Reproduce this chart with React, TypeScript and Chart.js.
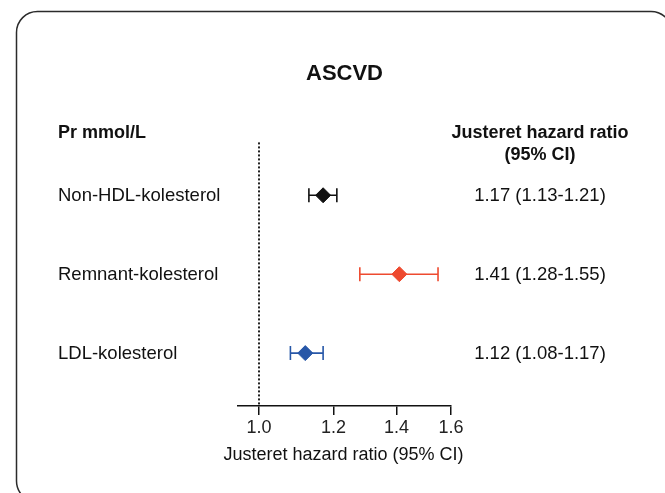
import React, { useEffect, useRef } from "react";
import { Chart, registerables } from "chart.js";

Chart.register(...registerables);

// Forest plot data: adjusted hazard ratios per mmol/L with 95% CI
const measures = ["Non-HDL-kolesterol", "Remnant-kolesterol", "LDL-kolesterol"];
const hazardRatios = [1.17, 1.41, 1.12];
const lowerCI = [1.13, 1.28, 1.08];
const upperCI = [1.21, 1.55, 1.17];
const markerColors = ["#111111", "#ee4a2f", "#2757a8"];
const xTicks = [1.0, 1.2, 1.4, 1.6];
const xAxisTitle = "Justeret hazard ratio (95% CI)";

const FONT = "'Liberation Sans', Arial, Helvetica, sans-serif";
const W = 665;
const H = 493;

const fmt = (v: number) => v.toFixed(2);

const forestPlugin = {
  id: "forestPlot",
  beforeDraw(chart: any) {
    const ctx = chart.ctx;
    ctx.save();
    ctx.fillStyle = "#ffffff";
    ctx.fillRect(0, 0, chart.width, chart.height);
    // rounded panel frame
    ctx.beginPath();
    ctx.roundRect(16.5, 11.5, 672 - 16.5, 502 - 11.5, 21);
    ctx.strokeStyle = "#2b2b2b";
    ctx.lineWidth = 1.5;
    ctx.stroke();
    ctx.restore();
  },
  beforeDatasetsDraw(chart: any) {
    const ctx = chart.ctx;
    const xs = chart.scales.x;
    const ys = chart.scales.y;
    const area = chart.chartArea;
    ctx.save();
    // reference line at HR = 1
    const x1 = Math.round(xs.getPixelForValue(1.0));
    ctx.beginPath();
    ctx.setLineDash([2, 2]);
    ctx.moveTo(x1, area.top);
    ctx.lineTo(x1, area.bottom);
    ctx.strokeStyle = "#222222";
    ctx.lineWidth = 2;
    ctx.stroke();
    ctx.setLineDash([]);
    // confidence intervals
    const cap = 7;
    measures.forEach((_, i) => {
      const y = ys.getPixelForValue(i);
      const xl = xs.getPixelForValue(lowerCI[i]);
      const xh = xs.getPixelForValue(upperCI[i]);
      ctx.beginPath();
      ctx.moveTo(xl, y);
      ctx.lineTo(xh, y);
      ctx.moveTo(xl, y - cap);
      ctx.lineTo(xl, y + cap);
      ctx.moveTo(xh, y - cap);
      ctx.lineTo(xh, y + cap);
      ctx.strokeStyle = markerColors[i];
      ctx.lineWidth = 1.6;
      ctx.stroke();
    });
    ctx.restore();
  },
  afterDraw(chart: any) {
    const ctx = chart.ctx;
    const xs = chart.scales.x;
    const ys = chart.scales.y;
    const area = chart.chartArea;
    const leftX = 58;
    const rightX = 540;
    ctx.save();
    ctx.fillStyle = "#111111";
    ctx.textBaseline = "middle";

    // column headers
    ctx.font = `bold 18px ${FONT}`;
    ctx.textAlign = "left";
    ctx.fillText("Pr mmol/L", leftX, area.top - 9);
    ctx.textAlign = "center";
    ctx.fillText("Justeret hazard ratio", rightX, area.top - 9);
    ctx.fillText("(95% CI)", rightX, area.top + 13);

    // row labels and values
    ctx.font = `18.5px ${FONT}`;
    measures.forEach((name, i) => {
      const y = ys.getPixelForValue(i) + 1;
      ctx.textAlign = "left";
      ctx.fillText(name, leftX, y);
      ctx.textAlign = "center";
      ctx.fillText(
        `${fmt(hazardRatios[i])} (${fmt(lowerCI[i])}-${fmt(upperCI[i])})`,
        rightX,
        y
      );
    });

    // x axis title, wider than the axis itself
    ctx.font = `18px ${FONT}`;
    ctx.textAlign = "center";
    ctx.fillText(xAxisTitle, (xs.left + xs.right) / 2 - 1, area.bottom + 49);
    ctx.restore();
  },
};

export default function App() {
  const canvasRef = useRef<HTMLCanvasElement | null>(null);

  useEffect(() => {
    if (!canvasRef.current) return;
    const chart = new Chart(canvasRef.current, {
      type: "scatter",
      data: {
        datasets: [
          {
            data: hazardRatios.map((hr, i) => ({ x: hr, y: i })),
            pointStyle: "rectRot",
            pointRadius: 7.5,
            pointHoverRadius: 7.5,
            pointBackgroundColor: markerColors,
            pointBorderColor: markerColors,
            pointBorderWidth: 1,
          },
        ],
      },
      options: {
        responsive: false,
        animation: false,
        events: [],
        layout: { padding: { left: 238, right: 214, top: 0, bottom: 0 } },
        plugins: {
          legend: { display: false },
          tooltip: { enabled: false },
          title: {
            display: true,
            text: "ASCVD",
            color: "#111111",
            font: { family: FONT, size: 22, weight: "bold" },
            padding: { top: 61, bottom: 55 },
          },
        },
        scales: {
          x: {
            type: "logarithmic",
            position: "bottom",
            min: 0.95,
            max: 1.6,
            afterBuildTicks: (scale: any) => {
              scale.ticks = xTicks.map((v) => ({ value: v }));
            },
            afterFit: (scale: any) => {
              scale.height = 87;
            },
            ticks: {
              autoSkip: false,
              maxRotation: 0,
              padding: 2,
              color: "#222222",
              font: { family: FONT, size: 18 },
              callback: (v: any) => Number(v).toFixed(1),
            },
            grid: {
              drawOnChartArea: false,
              drawTicks: true,
              tickLength: 9,
              color: "#111111",
              lineWidth: 1.5,
            },
            border: { display: true, color: "#111111", width: 1.5 },
            title: { display: false },
          },
          y: {
            type: "linear",
            display: false,
            reverse: true,
            min: -0.67,
            max: 2.67,
          },
        },
      },
      plugins: [forestPlugin],
    });
    return () => chart.destroy();
  }, []);

  return (
    <div style={{ position: "fixed", left: 0, top: 0, width: W, height: H, background: "#fff" }}>
      <canvas ref={canvasRef} width={W} height={H} style={{ display: "block" }} />
    </div>
  );
}
